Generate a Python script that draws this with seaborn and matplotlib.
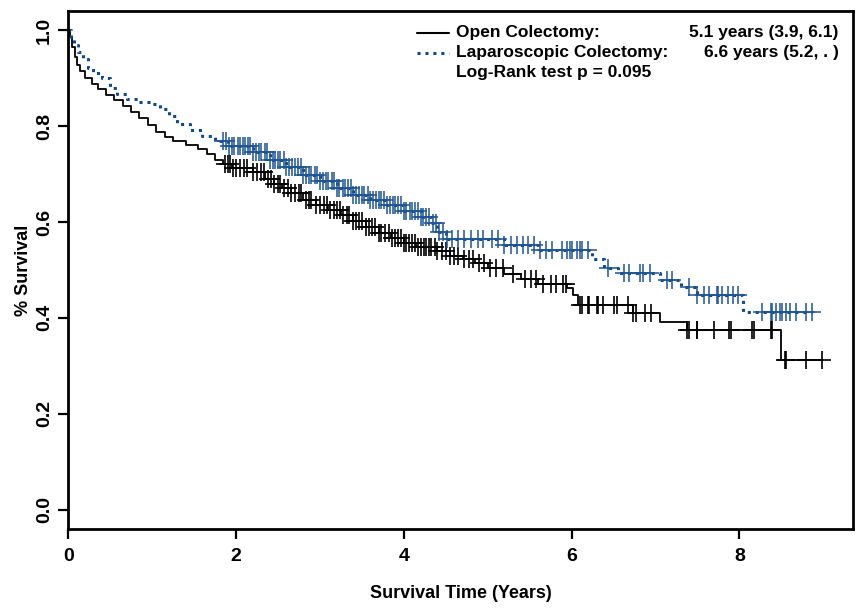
"""Kaplan-Meier survival: open vs laparoscopic colectomy."""

import matplotlib
matplotlib.use("Agg")
import matplotlib.pyplot as plt
import numpy as np
import pandas as pd
import seaborn as sns

# step curves: event time (years) and survival after that time
open_times = [0.0, 0.02, 0.05, 0.08, 0.11, 0.14, 0.2, 0.28, 0.35, 0.45, 0.55, 0.65,
              0.75, 0.85, 0.95, 1.05, 1.15, 1.25, 1.4, 1.55, 1.65, 1.75, 1.85, 1.95,
              2.2, 2.35, 2.45, 2.55, 2.65, 2.8, 2.95, 3.1, 3.25, 3.4, 3.55, 3.7, 3.85,
              4.0, 4.15, 4.4, 4.55, 4.7, 4.85, 5.0, 5.2, 5.4, 5.6, 5.95, 6.02, 6.08,
              6.73, 7.05, 7.38, 8.5, 8.99]
open_surv = [1.0, 0.985, 0.965, 0.945, 0.928, 0.915, 0.9, 0.888, 0.877, 0.864, 0.854,
             0.842, 0.83, 0.817, 0.803, 0.788, 0.777, 0.768, 0.76, 0.752, 0.742, 0.73,
             0.72, 0.713, 0.705, 0.69, 0.68, 0.67, 0.66, 0.645, 0.635, 0.625, 0.615,
             0.603, 0.59, 0.578, 0.566, 0.556, 0.548, 0.54, 0.53, 0.522, 0.515, 0.503,
             0.492, 0.482, 0.47, 0.462, 0.448, 0.427, 0.41, 0.391, 0.374, 0.312, 0.312]

lap_times = [0.0, 0.03, 0.07, 0.12, 0.18, 0.24, 0.3, 0.4, 0.5, 0.58, 0.7, 0.85, 1.0,
             1.1, 1.2, 1.3, 1.45, 1.6, 1.75, 1.9, 2.2, 2.4, 2.6, 2.8, 3.0, 3.2, 3.4,
             3.6, 3.8, 4.0, 4.2, 4.33, 4.4, 4.5, 5.2, 5.6, 6.24, 6.39, 6.55, 7.05,
             7.3, 7.49, 8.04, 8.87]
lap_surv = [1.0, 0.985, 0.97, 0.955, 0.94, 0.922, 0.91, 0.9, 0.88, 0.866, 0.856, 0.85,
            0.845, 0.835, 0.82, 0.805, 0.792, 0.78, 0.768, 0.758, 0.745, 0.73, 0.715,
            0.698, 0.685, 0.67, 0.657, 0.645, 0.635, 0.622, 0.61, 0.597, 0.58, 0.565,
            0.552, 0.542, 0.523, 0.504, 0.494, 0.479, 0.464, 0.448, 0.412, 0.412]

# censoring times
open_censor = [1.87, 1.9, 1.93, 1.97, 2.0, 2.05, 2.1, 2.13, 2.2, 2.25, 2.3, 2.33, 2.38,
               2.42, 2.45, 2.5, 2.53, 2.57, 2.62, 2.66, 2.7, 2.75, 2.78, 2.83, 2.87,
               2.9, 2.95, 3.0, 3.05, 3.08, 3.12, 3.17, 3.2, 3.24, 3.28, 3.32, 3.35, 3.4,
               3.43, 3.47, 3.5, 3.55, 3.58, 3.62, 3.66, 3.7, 3.73, 3.78, 3.82, 3.86,
               3.9, 3.93, 3.97, 4.0, 4.03, 4.06, 4.1, 4.13, 4.17, 4.2, 4.24, 4.27, 4.3,
               4.33, 4.37, 4.4, 4.45, 4.5, 4.55, 4.6, 4.65, 4.72, 4.78, 4.83, 4.9,
               4.96, 5.03, 5.1, 5.18, 5.3, 5.45, 5.52, 5.58, 5.66, 5.75, 5.82, 5.9,
               5.93, 6.1, 6.12, 6.19, 6.21, 6.3, 6.32, 6.37, 6.51, 6.54, 6.67, 6.73,
               6.77, 6.87, 6.95, 7.38, 7.4, 7.49, 7.5, 7.7, 7.88, 7.9, 8.15, 8.18,
               8.38, 8.39, 8.54, 8.56, 8.8, 8.99]
lap_censor = [1.85, 1.88, 1.92, 1.95, 1.98, 2.02, 2.05, 2.08, 2.11, 2.14, 2.17, 2.2,
              2.24, 2.27, 2.3, 2.34, 2.37, 2.4, 2.44, 2.47, 2.5, 2.53, 2.57, 2.6, 2.63,
              2.67, 2.7, 2.74, 2.77, 2.8, 2.84, 2.87, 2.9, 2.94, 2.97, 3.0, 3.04, 3.07,
              3.1, 3.14, 3.17, 3.2, 3.23, 3.27, 3.3, 3.33, 3.37, 3.4, 3.43, 3.47, 3.5,
              3.53, 3.57, 3.6, 3.63, 3.67, 3.7, 3.73, 3.77, 3.8, 3.83, 3.87, 3.9, 3.93,
              3.97, 4.0, 4.03, 4.07, 4.1, 4.13, 4.17, 4.2, 4.23, 4.27, 4.3, 4.35,
              4.38, 4.42, 4.47, 4.52, 4.58, 4.65, 4.72, 4.8, 4.88, 4.95, 5.05, 5.12,
              5.2, 5.28, 5.35, 5.42, 5.48, 5.55, 5.62, 5.7, 5.77, 5.89, 5.95, 5.98,
              6.01, 6.07, 6.1, 6.13, 6.19, 6.43, 6.63, 6.69, 6.81, 6.85, 6.93, 7.14,
              7.2, 7.4, 7.5, 7.58, 7.64, 7.73, 7.74, 7.79, 7.86, 7.92, 7.98, 8.27,
              8.38, 8.39, 8.44, 8.48, 8.51, 8.56, 8.6, 8.68, 8.8, 8.87]

BLACK = "#000000"
BLUE = "#0d4a8c"
DOTS = (0, (1, 1.6))


def surv_at(times, surv, t):
    idx = np.searchsorted(times, t, side="right") - 1
    return np.asarray(surv)[idx]


sns.set_theme(style="ticks")
plt.rcParams["font.family"] = ["Liberation Sans", "DejaVu Sans"]
plt.rcParams.update({
    "font.weight": "bold",
    "text.color": "black",
    "axes.labelcolor": "black",
    "axes.edgecolor": "black",
    "xtick.color": "black",
    "ytick.color": "black",
})

fig = plt.figure(figsize=(8.63, 6.10), dpi=100)
ax = fig.add_axes([0.079, 0.133, 0.909, 0.849])

open_df = pd.DataFrame({"time": open_times, "surv": open_surv})
lap_df = pd.DataFrame({"time": lap_times, "surv": lap_surv})

sns.lineplot(data=open_df, x="time", y="surv", drawstyle="steps-post", color=BLACK,
             linewidth=1.3, ax=ax, sort=False)
sns.lineplot(data=lap_df, x="time", y="surv", drawstyle="steps-post", color=BLUE,
             linewidth=2.2, linestyle=DOTS, ax=ax, sort=False)

ax.plot(open_censor, surv_at(open_times, open_surv, open_censor), ls="none",
        marker="+", ms=13, mew=1.2, color=BLACK)
ax.plot(lap_censor, surv_at(lap_times, lap_surv, lap_censor), ls="none",
        marker="+", ms=13, mew=1.1, color="#1f5596")

ax.set_xlim(0, 9.35)
ax.set_ylim(-0.04, 1.04)
ax.set_xticks([0, 2, 4, 6, 8])
ax.set_yticks([0.0, 0.2, 0.4, 0.6, 0.8, 1.0])
ax.set_yticklabels(["0.0", "0.2", "0.4", "0.6", "0.8", "1.0"], rotation=90, va="center")
ax.tick_params(axis="x", labelsize=14, width=1.6, length=7, pad=7)
ax.tick_params(axis="y", labelsize=14, width=1.6, length=7, pad=4)
for lab in ax.get_xticklabels() + ax.get_yticklabels():
    lab.set_fontweight("bold")
for side in ax.spines.values():
    side.set_linewidth(2)
    side.set_visible(True)

ax.set_xlabel("Survival Time (Years)", fontsize=13, fontweight="bold", labelpad=14)
ax.set_ylabel("% Survival", fontsize=13, fontweight="bold", labelpad=3)

# legend block, top right
tr = ax.transAxes
ax.plot([0.445, 0.485], [0.958, 0.958], transform=tr, color=BLACK, lw=1.5)
ax.plot([0.445, 0.485], [0.919, 0.919], transform=tr, color=BLUE, lw=2.2,
        linestyle=DOTS)
kw = dict(transform=tr, fontsize=12.5, fontweight="bold", va="center")
ax.text(0.495, 0.958, "Open Colectomy:", **kw)
ax.text(0.495, 0.919, "Laparoscopic Colectomy:", **kw)
ax.text(0.495, 0.881, "Log-Rank test p = 0.095", **kw)
ax.text(0.982, 0.958, "5.1 years (3.9, 6.1)", ha="right", **kw)
ax.text(0.982, 0.919, "6.6 years (5.2, . )", ha="right", **kw)

fig.savefig("out.png", dpi=100)
